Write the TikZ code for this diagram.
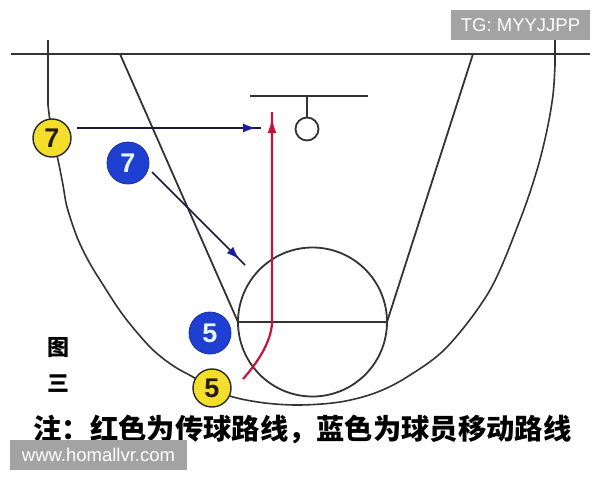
\documentclass[tikz,border=0pt]{standalone}
\usepackage{fontspec}
\setmainfont{Liberation Sans}
\newfontfamily\cjk{Noto Sans CJK SC}
\usetikzlibrary{arrows.meta,decorations.markings}
\definecolor{court}{HTML}{333333}
\definecolor{pyellow}{HTML}{F4DE2C}
\definecolor{pblue}{HTML}{1E3FD0}
\definecolor{navyline}{HTML}{1A1A40}
\definecolor{arrowblue}{HTML}{1C1CA0}
\definecolor{passred}{HTML}{C8143C}
\definecolor{wmgray}{HTML}{A3A3A3}
\begin{document}
\begin{tikzpicture}[x=1pt,y=-1pt,
  courtline/.style={draw=court, line width=1.8pt},
  yplayer/.style={circle, fill=pyellow, draw=black!85, line width=1.4pt, minimum size=38pt, inner sep=0pt,
    font=\fontsize{27}{27}\selectfont\bfseries, text=black!80!brown},
  bplayer/.style={circle, fill=pblue, draw=pblue!80!black, line width=0.8pt, minimum size=42pt, inner sep=0pt,
    font=\fontsize{27}{27}\selectfont\bfseries, text=white!90!cyan},
  movearrow/.style={draw=navyline, line width=1.6pt, postaction={decorate},
    decoration={markings, mark=at position #1 with {\arrow{Latex[length=13pt,width=9pt,color=arrowblue]}}}},
  passarrow/.style={draw=passred, line width=2.2pt, postaction={decorate},
    decoration={markings, mark=at position #1 with {\arrow{Latex[length=15pt,width=9pt,color=passred]}}}},
  wmbox/.style={fill=wmgray, text=white, inner sep=0pt, font=\fontsize{18.5}{18.5}\selectfont}
]
\useasboundingbox[fill=white] (0,0) rectangle (600,480);

% baseline
\draw[courtline, line width=2.6pt] (11,54) -- (590,54);
% backboard and rim
\draw[courtline, line width=2.4pt] (250,96) -- (368,96);
\draw[courtline] (307,96) -- (307,117);
\draw[courtline] (307,129) circle (11.5);
% lane lines
\draw[courtline] (120,54) -- (238,322);
\draw[courtline] (473,54) -- (387,322);
% free throw line and circle
\draw[courtline] (238,322) -- (387,322);
\draw[courtline] (312.5,322) circle (74.5);
% three point line
\draw[courtline, line width=1.6pt] (48,40) -- plot[smooth, tension=0.55] coordinates {
  (48,105) (52,135) (58,160) (63,185) (67,207) (77,237) (88,260) (100,280) (123,315)
  (150,347) (172,365) (193,377) (212,388) (233,397) (265,403) (300,405) (340,402)
  (375,393) (407,377) (447,347) (490,290) (520,220) (537,170) (547,130) (553,95) (555,65)} -- (555,40);

% players
\node[yplayer] (y7) at (52,138) {7};
\node[bplayer] (b7) at (128,163) {7};
\node[bplayer] (b5) at (210,333) {5};
\node[yplayer] (y5) at (212,388) {5};

% arrow end points
\coordinate (y7s) at (77,128);
\coordinate (y7e) at (261,128);
\coordinate (b7s) at (152,172);
\coordinate (b7e) at (245,265);
\coordinate (y5s) at (243,379);
\coordinate (rim) at (272,112);

\draw[movearrow=-5pt] (y7s) -- (y7e);
\draw[movearrow=-8pt] (b7s) -- (b7e);
\draw[passarrow=-6pt] (y5s) .. controls (258,362) and (271,342) .. (272,323) -- (rim);

% labels
\node[font=\cjk\bfseries\fontsize{22}{22}\selectfont] (fig) at (58,348) {图};
\node[font=\cjk\bfseries\fontsize{22}{22}\selectfont] (three) at (58,384) {三};
\node[font=\cjk\bfseries\fontsize{28.3}{28.3}\selectfont, inner sep=0pt] (note) at (302.5,429)
  {注：红色为传球路线，蓝色为球员移动路线};

% watermarks
\node[wmbox, minimum width=139pt, minimum height=30pt] (tg) at (520.5,25) {TG: MYYJJPP};
\node[wmbox, minimum width=177pt, minimum height=30pt] (www) at (98.5,455) {www.homallvr.com};
\end{tikzpicture}
\end{document}
